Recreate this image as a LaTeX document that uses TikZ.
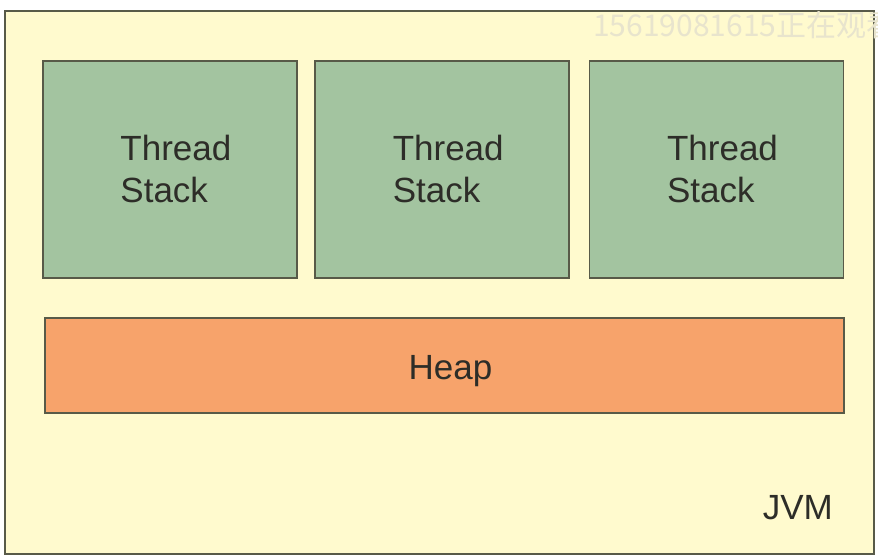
\documentclass[tikz,border=0pt]{standalone}
\usepackage{fontspec}
\setmainfont{Liberation Sans}
\newfontfamily\cjkfont{Noto Sans CJK SC}
\usetikzlibrary{positioning}

\definecolor{jvmbg}{RGB}{255,250,206}
\definecolor{stackgreen}{RGB}{163,196,160}
\definecolor{heaporange}{RGB}{247,163,107}
\definecolor{edgegray}{RGB}{88,90,72}
\definecolor{textgray}{RGB}{45,45,40}
\definecolor{markgray}{RGB}{232,228,205}

\begin{document}
\begin{tikzpicture}[x=1pt, y=-1pt,
    node distance=19pt and 16.5pt,
    area/.style={draw=edgegray, line width=1.8pt, inner sep=0pt, text=textgray, font=\fontsize{35}{42}\selectfont},
    stackbox/.style={area, fill=stackgreen, minimum width=254pt, minimum height=217pt, align=left},
    heapbox/.style={area, fill=heaporange, minimum width=799pt, minimum height=95pt, text height=35pt, text depth=7pt}
  ]
  \useasboundingbox (0,0) rectangle (878,558);
  \fill[white] (0,0) rectangle (878,558);

  \node[area, fill=jvmbg, minimum width=869pt, minimum height=543pt, anchor=north west] (jvm) at (4,10) {};

  \node[stackbox, anchor=north west] (stack1) at (42,60) {\hspace*{12pt}Thread\\\hspace*{12pt}Stack};
  \node[stackbox, right=of stack1] (stack2) {\hspace*{12pt}Thread\\\hspace*{12pt}Stack};
  \node[stackbox, right=18.5pt of stack2] (stack3) {\hspace*{12pt}Thread\\\hspace*{12pt}Stack};

  \node[heapbox, anchor=north west] (heap) at (44,317) {\hspace*{12pt}Heap};

  \node[inner sep=0pt, text=textgray, font=\fontsize{35}{42}\selectfont, anchor=base east] (jvmlabel) at (833,519) {JVM};

  % watermark
  \begin{scope}
    \clip (0,0) rectangle (878,558);
    \node[inner sep=0pt, text=markgray, font=\cjkfont\fontsize{30}{36}\selectfont, anchor=base west] (mark) at (593,36) {15619081615正在观看};
  \end{scope}
\end{tikzpicture}
\end{document}
